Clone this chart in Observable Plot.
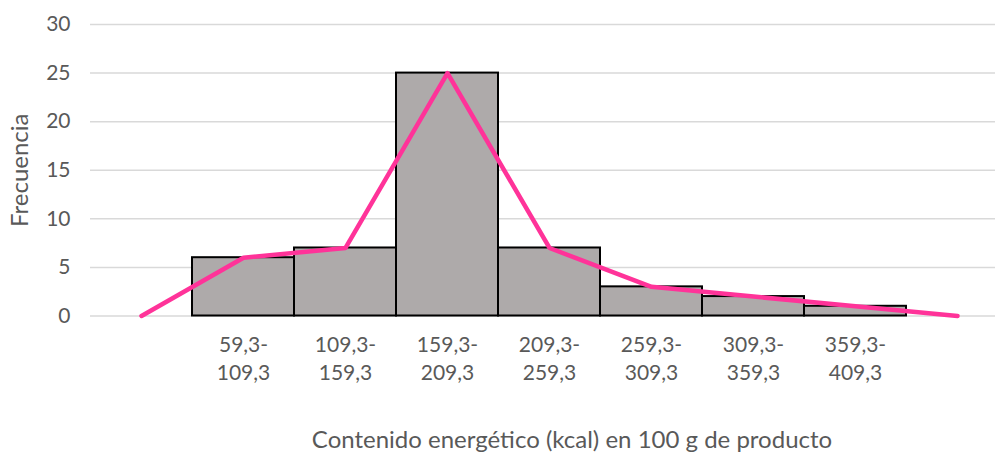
<!DOCTYPE html>
<html><head><meta charset="utf-8">
<script src="https://cdn.jsdelivr.net/npm/d3@7"></script>
<script src="https://cdn.jsdelivr.net/npm/@observablehq/plot@0.6"></script>
<style>body{margin:0;background:#fff}</style>
</head><body><div id="chart"></div>
<script>
const categories = ["pre", "59,3-109,3", "109,3-159,3", "159,3-209,3", "209,3-259,3", "259,3-309,3", "309,3-359,3", "359,3-409,3", "post"];
const tickLabels = ["", "59,3-\n109,3", "109,3-\n159,3", "159,3-\n209,3", "209,3-\n259,3", "259,3-\n309,3", "309,3-\n359,3", "359,3-\n409,3", ""];
const frequencies = [0, 6, 7, 25, 7, 3, 2, 1, 0];
const yTicks = [0, 5, 10, 15, 20, 25, 30];
const yLabel = "Frecuencia";
const xLabel = "Contenido energético (kcal) en 100 g de producto";

const data = categories.map((c, i) => ({cat: c, freq: frequencies[i], label: tickLabels[i], idx: i}));
const bars = data.filter(d => d.idx > 0 && d.idx < categories.length - 1);

const chart = Plot.plot({
  width: 995, height: 456,
  marginLeft: 90, marginRight: 0, marginTop: 24, marginBottom: 140.5,
  style: {fontFamily: "Lato, 'Open Sans', sans-serif", fontSize: "21px", color: "#595959", background: "#fff"},
  x: {domain: categories, range: [90, 1008], padding: 0, axis: null},
  y: {domain: [0, 30], ticks: yTicks, tickSize: 0, tickPadding: 20, label: null},
  marks: [
    Plot.ruleY(yTicks, {stroke: "#d9d9d9", strokeWidth: 1.5}),
    Plot.barY(bars, {x: "cat", y: "freq", fill: "#AEAAAA", stroke: "#000", strokeWidth: 2, inset: 0}),
    Plot.line(data, {x: "cat", y: "freq", stroke: "#FF3399", strokeWidth: 4.5, strokeLinejoin: "round"}),
    Plot.text(bars, {x: "cat", y: () => 0, text: "label", lineAnchor: "top", dy: 17, lineHeight: 1.3, fill: "#595959", fontSize: 21}),
    Plot.text([yLabel], {frameAnchor: "left", textAnchor: "middle", rotate: -90, dx: -70, fill: "#595959", fontSize: 24}),
    Plot.text([xLabel], {frameAnchor: "bottom", dy: 132, dx: 29, fill: "#595959", fontSize: 24})
  ]
});
document.getElementById("chart").append(chart);
</script>
</body></html>
